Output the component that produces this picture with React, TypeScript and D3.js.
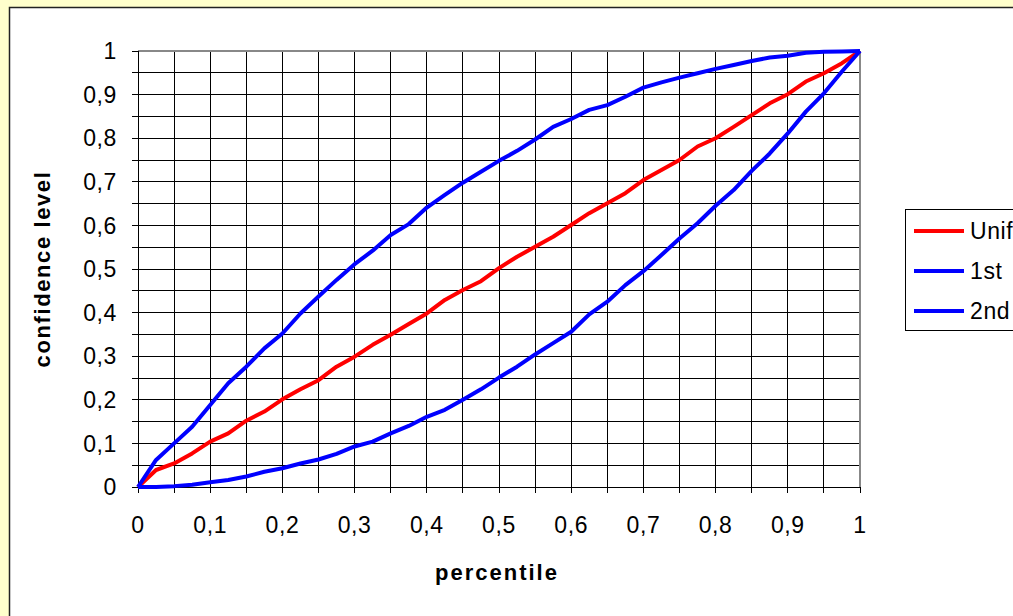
import * as d3 from 'd3';

const percentile = [
  0, 0.025, 0.05, 0.075, 0.1, 0.125, 0.15, 0.175, 0.2, 0.225, 0.25, 0.275, 0.3, 0.325,
  0.35, 0.375, 0.4, 0.425, 0.45, 0.475, 0.5, 0.525, 0.55, 0.575, 0.6, 0.625, 0.65, 0.675,
  0.7, 0.725, 0.75, 0.775, 0.8, 0.825, 0.85, 0.875, 0.9, 0.925, 0.95, 0.975, 1,
];

const uniform = [
  0, 0.039, 0.054, 0.077, 0.104, 0.123, 0.152, 0.173, 0.201, 0.224, 0.245, 0.276, 0.299, 0.326,
  0.349, 0.374, 0.398, 0.429, 0.452, 0.472, 0.502, 0.528, 0.551, 0.574, 0.601, 0.628, 0.651, 0.674,
  0.704, 0.727, 0.75, 0.781, 0.8, 0.826, 0.853, 0.88, 0.901, 0.93, 0.949, 0.972, 1,
];

const first = [
  0, 0.062, 0.1, 0.138, 0.188, 0.238, 0.276, 0.318, 0.352, 0.398, 0.437, 0.475, 0.511, 0.542,
  0.578, 0.603, 0.641, 0.67, 0.698, 0.723, 0.748, 0.771, 0.797, 0.826, 0.844, 0.865, 0.876, 0.895,
  0.916, 0.928, 0.939, 0.949, 0.959, 0.968, 0.977, 0.985, 0.989, 0.996, 0.998, 0.999, 1,
];

const second = [
  0, 0, 0.002, 0.005, 0.011, 0.016, 0.024, 0.035, 0.043, 0.054, 0.063, 0.076, 0.093, 0.104,
  0.123, 0.14, 0.161, 0.177, 0.2, 0.224, 0.251, 0.276, 0.304, 0.33, 0.356, 0.396, 0.425, 0.463,
  0.495, 0.532, 0.57, 0.605, 0.645, 0.681, 0.725, 0.765, 0.811, 0.861, 0.903, 0.953, 1,
];

const seriesNames = ['Uniform', '1st', '2nd'];
const seriesColors = ['#ff0000', '#0000ff', '#0000ff'];
const labelTicks = [0, 0.1, 0.2, 0.3, 0.4, 0.5, 0.6, 0.7, 0.8, 0.9, 1];
const gridTicks = d3.range(0, 21).map((i) => i / 20);

const W = 1013;
const H = 616;
const plot = { left: 138, right: 860, top: 51, bottom: 487 };
const font = '"Liberation Sans", Arial, sans-serif';

const fmt = (v: number) => String(+v.toFixed(1)).replace('.', ',');

export default function App() {
  const x = d3.scaleLinear().domain([0, 1]).range([plot.left, plot.right]);
  const y = d3.scaleLinear().domain([0, 1]).range([plot.bottom, plot.top]);

  const line = d3
    .line<number>()
    .x((_, i) => x(percentile[i]))
    .y((d) => y(d));

  const series = [uniform, first, second];

  return (
    <svg
      width={W}
      height={H}
      style={{ position: 'absolute', left: 0, top: 0, display: 'block' }}
      fontFamily={font}
    >
      <rect x={0} y={0} width={W} height={H} fill="#ffffcc" />
      <rect x={9.5} y={7.5} width={1200} height={800} fill="#ffffff" stroke="#222" strokeWidth={1.5} />

      {/* grid */}
      <g shapeRendering="crispEdges">
        {gridTicks.map((t) => (
          <line key={'v' + t} x1={x(t)} x2={x(t)} y1={plot.top} y2={plot.bottom} stroke="#000" strokeWidth={1} />
        ))}
        {gridTicks.map((t) => (
          <line key={'h' + t} x1={plot.left} x2={plot.right} y1={y(t)} y2={y(t)} stroke="#000" strokeWidth={1} />
        ))}
        <line x1={plot.left} x2={plot.right} y1={plot.top} y2={plot.top} stroke="#888" strokeWidth={2} />
        <line x1={plot.right} x2={plot.right} y1={plot.top} y2={plot.bottom} stroke="#888" strokeWidth={2} />
        {/* axes */}
        <line x1={plot.left} x2={plot.left} y1={plot.top} y2={plot.bottom} stroke="#000" strokeWidth={1} />
        <line x1={plot.left} x2={plot.right} y1={plot.bottom} y2={plot.bottom} stroke="#000" strokeWidth={1} />
        {gridTicks.map((t) => (
          <line key={'ty' + t} x1={plot.left - 6} x2={plot.left} y1={y(t)} y2={y(t)} stroke="#000" />
        ))}
        {gridTicks.map((t) => (
          <line key={'tx' + t} x1={x(t)} x2={x(t)} y1={plot.bottom} y2={plot.bottom + 6} stroke="#000" />
        ))}
      </g>

      {/* tick labels */}
      {labelTicks.map((t) => (
        <text
          key={'ly' + t}
          x={plot.left - 21}
          y={y(t)}
          dy="0.36em"
          textAnchor="end"
          fontSize={23}
          letterSpacing={0.6}
          fill="#000"
        >
          {fmt(t)}
        </text>
      ))}
      {labelTicks.map((t) => (
        <text
          key={'lx' + t}
          x={x(t)}
          y={533}
          textAnchor="middle"
          fontSize={23}
          letterSpacing={0.6}
          fill="#000"
        >
          {fmt(t)}
        </text>
      ))}

      {/* axis titles */}
      <text x={497} y={580} textAnchor="middle" fontSize={22} fontWeight="bold" letterSpacing={2}>
        percentile
      </text>
      <text
        transform={`translate(50,${(plot.top + plot.bottom) / 2}) rotate(-90)`}
        textAnchor="middle"
        fontSize={22}
        fontWeight="bold"
        letterSpacing={1.6}
      >
        confidence level
      </text>

      {/* series */}
      {series.map((s, i) => (
        <path
          key={seriesNames[i]}
          d={line(s) ?? ''}
          fill="none"
          stroke={seriesColors[i]}
          strokeWidth={4}
          strokeLinejoin="round"
        />
      ))}

      {/* legend */}
      <rect x={905.5} y={209.5} width={200} height={121} fill="#fff" stroke="#000" strokeWidth={1} />
      {seriesNames.map((name, i) => (
        <g key={'lg' + name} transform={`translate(0,${231 + i * 40})`}>
          <line x1={914} x2={964} y1={0} y2={0} stroke={seriesColors[i]} strokeWidth={4} />
          <text x={970} y={0} dy="0.36em" fontSize={23} letterSpacing={0.6} fill="#000">
            {name}
          </text>
        </g>
      ))}
    </svg>
  );
}
